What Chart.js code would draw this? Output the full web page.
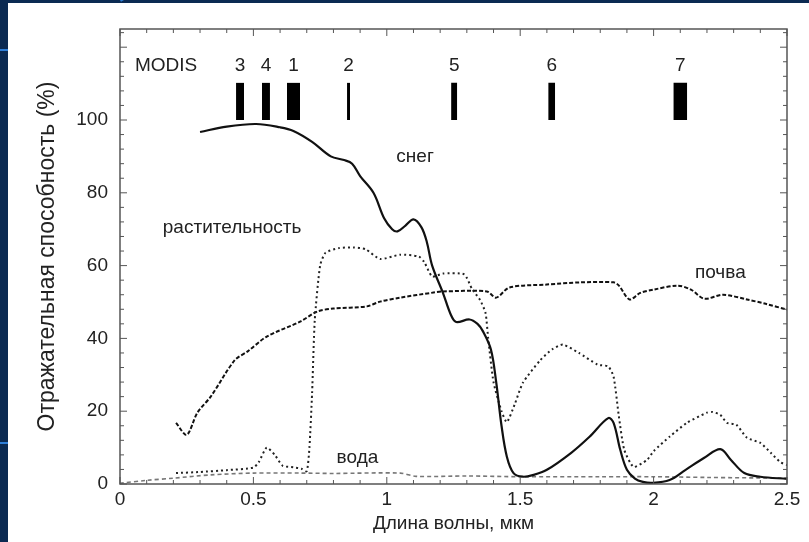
<!DOCTYPE html>
<html>
<head>
<meta charset="utf-8">
<script src="https://cdn.jsdelivr.net/npm/chart.js@4.4.1/dist/chart.umd.min.js"></script>
<style>
  body { margin: 0; width: 809px; height: 542px; overflow: hidden; background: #0b2a52; position: relative; }
  .ln { position: absolute; background: #2f7fd8; }
  #panel { position: absolute; left: 8px; top: 3px; width: 801px; height: 539px; background: #fff; }
</style>
</head>
<body>
<div class="ln" style="left:0;top:49px;width:8px;height:2px"></div>
<div class="ln" style="left:0;top:442px;width:8px;height:2px"></div>
<div class="ln" style="left:120px;top:0;width:80px;height:2px;transform:rotate(-30deg);transform-origin:0 0"></div>
<div id="panel"><canvas id="refl"></canvas></div>
<script>
// wavelength (um) / reflectance (%)
const snowX = [0.30, 0.40, 0.51, 0.60, 0.65, 0.72, 0.79, 0.84, 0.87, 0.90, 0.95, 0.99, 1.02, 1.04, 1.07, 1.10, 1.13, 1.15, 1.17, 1.21, 1.24, 1.26, 1.31, 1.34, 1.36, 1.39, 1.41, 1.43, 1.45, 1.475, 1.51, 1.55, 1.60, 1.69, 1.76, 1.83, 1.85, 1.875, 1.90, 1.93, 1.96, 1.995, 2.06, 2.12, 2.19, 2.25, 2.29, 2.34, 2.40, 2.50];
const snowY = [96.7, 98.2, 98.9, 98.0, 97.0, 94, 90, 89, 88, 84.6, 80, 73, 70, 69.4, 71, 72.7, 70.5, 66.5, 60, 52.6, 46.5, 44.5, 45.2, 44, 42, 37, 28, 16, 7.5, 3, 2, 2.5, 3.9, 8.5, 13, 18.1, 16.8, 9.4, 3.9, 1.5, 0.6, 0.3, 1.1, 3.9, 7.2, 9.6, 6.6, 3, 2, 1.4];

const vegX = [0.21, 0.30, 0.40, 0.50, 0.52, 0.55, 0.58, 0.61, 0.65, 0.68, 0.70, 0.71, 0.72, 0.73, 0.75, 0.77, 0.82, 0.875, 0.92, 0.975, 1.05, 1.12, 1.14, 1.17, 1.21, 1.29, 1.32, 1.35, 1.37, 1.38, 1.40, 1.43, 1.45, 1.48, 1.51, 1.575, 1.62, 1.66, 1.72, 1.79, 1.83, 1.85, 1.87, 1.89, 1.925, 1.975, 2.0, 2.06, 2.125, 2.2, 2.22, 2.25, 2.275, 2.31, 2.35, 2.40, 2.44, 2.475, 2.50];
const vegY = [3.0, 3.3, 3.8, 4.5, 6, 10, 8, 5, 4.6, 4.2, 3.5, 10, 25, 45, 60, 63.5, 64.8, 65, 64.5, 61.8, 63, 62.5, 61, 57, 57.8, 57.6, 53.5, 50.5, 47, 40, 28, 20, 17, 22, 27.8, 34, 37, 38.3, 36, 32.8, 32.3, 29.5, 18.5, 9.4, 4.7, 6.6, 9, 13, 16.8, 19.6, 19.8, 19, 16.8, 16.3, 12.7, 11.3, 8.5, 6, 5.2];

const soilX = [0.21, 0.25, 0.29, 0.34, 0.43, 0.48, 0.55, 0.675, 0.74, 0.80, 0.925, 0.975, 1.05, 1.175, 1.21, 1.375, 1.41, 1.46, 1.60, 1.725, 1.85, 1.87, 1.91, 1.95, 2.0, 2.09, 2.14, 2.19, 2.26, 2.35, 2.42, 2.50];
const soilY = [16.8, 13.5, 19.6, 24, 34, 36.5, 40.5, 44.6, 47.4, 48.2, 48.8, 50.1, 51.2, 52.6, 52.9, 52.9, 51.2, 54, 54.8, 55.4, 55.4, 54.5, 50.7, 52.5, 53.4, 54.5, 53.4, 50.9, 52, 50.7, 49.5, 47.9];

const waterX = [0.0, 0.1, 0.2, 0.34, 0.5, 0.675, 0.8, 1.05, 1.11, 1.3, 1.5, 1.8, 2.0, 2.2, 2.5];
const waterY = [0.2, 1.0, 1.6, 2.5, 3.0, 3.0, 2.9, 3.0, 2.1, 2.2, 2.0, 2.0, 2.0, 1.8, 1.6];

// MODIS bands: number, start, end (um)
const bandNames = ["3", "4", "1", "2", "5", "6", "7"];
const bandStart = [0.435, 0.532, 0.626, 0.851, 1.241, 1.605, 2.074];
const bandEnd = [0.465, 0.562, 0.675, 0.862, 1.264, 1.631, 2.126];
const bandLow = 100, bandHigh = 110.2, bandLabelY = 115;

const xTicks = [0, 0.5, 1, 1.5, 2, 2.5];
const yTicks = [0, 20, 40, 60, 80, 100];

// curve labels: text, x, y (data units)
const curveLabels = [
  ["снег", 1.106, 89.8],
  ["растительность", 0.42, 70.5],
  ["почва", 2.25, 58],
  ["вода", 0.89, 7.2]
];

function pts(xs, ys) { return xs.map((x, i) => ({ x: x, y: ys[i] })); }

const FONT = "'Liberation Sans', Arial, sans-serif";
Chart.defaults.font.family = FONT;
Chart.defaults.color = "#222";

const bandSets = bandNames.map((n, i) => ({
  label: "band " + n,
  data: [{ x: bandStart[i], y: bandHigh }, { x: bandEnd[i], y: bandHigh }],
  borderWidth: 0,
  pointRadius: 0,
  backgroundColor: "#000",
  fill: { value: bandLow },
  tension: 0
}));

const framePlugin = {
  id: "frame",
  afterDraw(chart) {
    const { ctx, chartArea: a, scales: { x, y } } = chart;
    ctx.save();
    ctx.strokeStyle = "#555";
    ctx.lineWidth = 1.5;
    ctx.strokeRect(a.left, a.top, a.right - a.left, a.bottom - a.top);
    ctx.lineWidth = 1;
    ctx.beginPath();
    for (let i = 0; i <= 25; i++) {
      const px = x.getPixelForValue(i / 10), len = i % 5 === 0 ? 7 : 4;
      ctx.moveTo(px, a.bottom); ctx.lineTo(px, a.bottom - len);
      ctx.moveTo(px, a.top); ctx.lineTo(px, a.top + len);
    }
    for (let v = 0; v <= 124; v += 4) {
      const py = y.getPixelForValue(v), len = v % 20 === 0 ? 7 : 4;
      ctx.moveTo(a.left, py); ctx.lineTo(a.left + len, py);
      ctx.moveTo(a.right, py); ctx.lineTo(a.right - len, py);
    }
    ctx.stroke();

    ctx.fillStyle = "#222";
    ctx.textBaseline = "middle";
    ctx.textAlign = "left";
    ctx.font = "19px " + FONT;
    ctx.fillText("MODIS", x.getPixelForValue(0.056), y.getPixelForValue(bandLabelY));
    ctx.textAlign = "center";
    bandNames.forEach((n, i) => {
      ctx.fillText(n, x.getPixelForValue((bandStart[i] + bandEnd[i]) / 2), y.getPixelForValue(bandLabelY));
    });
    curveLabels.forEach(l => {
      ctx.fillText(l[0], x.getPixelForValue(l[1]), y.getPixelForValue(l[2]));
    });
    ctx.restore();
  }
};

new Chart(document.getElementById("refl"), {
  type: "line",
  data: {
    datasets: [
      { label: "снег", data: pts(snowX, snowY), borderColor: "#111", borderWidth: 2.2, pointRadius: 0, tension: 0.35, fill: false },
      { label: "растительность", data: pts(vegX, vegY), borderColor: "#222", borderWidth: 2, borderDash: [2, 3], pointRadius: 0, tension: 0.2, fill: false },
      { label: "почва", data: pts(soilX, soilY), borderColor: "#111", borderWidth: 2, borderDash: [4, 2], pointRadius: 0, tension: 0.3, fill: false },
      { label: "вода", data: pts(waterX, waterY), borderColor: "#777", borderWidth: 1.6, borderDash: [4, 3], pointRadius: 0, tension: 0.3, fill: false }
    ].concat(bandSets)
  },
  options: {
    responsive: true,
    maintainAspectRatio: false,
    animation: false,
    layout: { padding: { left: 0, top: 26, right: 22, bottom: 0 } },
    plugins: { legend: { display: false }, tooltip: { enabled: false } },
    scales: {
      x: {
        type: "linear",
        min: 0, max: 2.5,
        grid: { display: false, drawTicks: false },
        border: { display: false },
        afterBuildTicks: s => { s.ticks = xTicks.map(v => ({ value: v })); },
        afterFit: s => { s.height = 58; },
        ticks: { font: { size: 19 }, padding: 4, maxRotation: 0, callback: v => String(v) },
        title: { display: true, text: "Длина волны, мкм", font: { size: 19 }, padding: { top: 7, bottom: 7 } }
      },
      y: {
        type: "linear",
        min: 0, max: 125,
        grid: { display: false, drawTicks: false },
        border: { display: false },
        afterBuildTicks: s => { s.ticks = yTicks.map(v => ({ value: v })); },
        afterFit: s => { s.width = 112; },
        ticks: { font: { size: 19 }, padding: 12, callback: v => String(v) },
        title: { display: true, text: "Отражательная способность (%)", font: { size: 23 }, padding: { top: 26, bottom: 26 } }
      }
    }
  },
  plugins: [framePlugin]
});
</script>
</body>
</html>
